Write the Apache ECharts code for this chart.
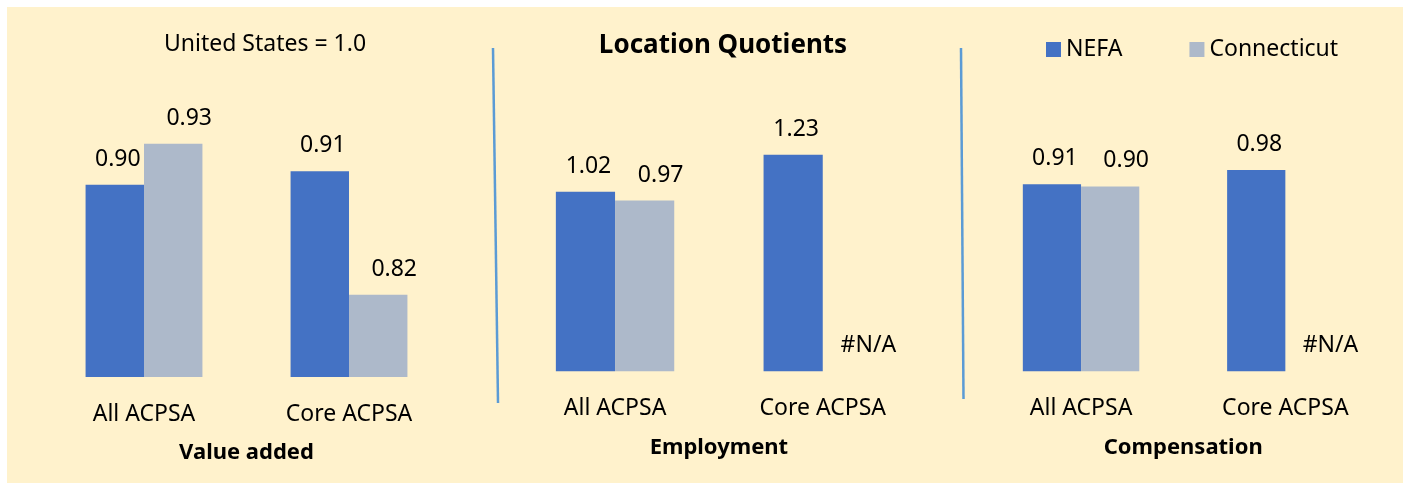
<!DOCTYPE html>
<html>
<head>
<meta charset="utf-8">
<title>Location Quotients</title>
<script src="https://cdn.jsdelivr.net/npm/echarts@6/dist/echarts.min.js"></script>
<style>
  html, body { margin: 0; padding: 0; background: #fff; }
  #chart { width: 1403px; height: 483px; }
</style>
</head>
<body>
<div id="chart"></div>
<script>
// data
const categories = ['All ACPSA', 'Core ACPSA']
const panelNames = ['Value added', 'Employment', 'Compensation']
const seriesNames = ['NEFA', 'Connecticut']
const nefaValueAdded = [0.90, 0.91]
const ctValueAdded = [0.93, 0.82]
const nefaEmployment = [1.02, 1.23]
const ctEmployment = [0.97, null] // #N/A
const nefaCompensation = [0.91, 0.98]
const ctCompensation = [0.90, null] // #N/A

const colors = ['#4472C4', '#ADB9CA']
const font = '"Noto Sans", "Open Sans", sans-serif'

// panel layout (pixels) and value ranges
const panels = [
  { left: 41.5, width: 410, top: 102.5, height: 274.5, min: 0.76, max: 0.96, nefa: nefaValueAdded, ct: ctValueAdded },
  { left: 511.2, width: 415.4, top: 124.8, height: 246.5, min: 0, max: 1.4, nefa: nefaEmployment, ct: ctEmployment },
  { left: 978.9, width: 408.6, top: 124.8, height: 246.5, min: 0, max: 1.2, nefa: nefaCompensation, ct: ctCompensation }
]

function labelFmt(p) {
  if (p.data && p.data.na) return '#N/A'
  return Number(p.value).toFixed(2)
}

const grid = []
const xAxis = []
const yAxis = []
const series = []

panels.forEach((pn, i) => {
  grid.push({ left: pn.left, width: pn.width, top: pn.top, height: pn.height })
  xAxis.push({
    type: 'category',
    gridIndex: i,
    data: categories,
    name: panelNames[i],
    nameLocation: 'middle',
    nameGap: 65,
    nameTextStyle: { fontFamily: font, fontSize: 22, fontWeight: 'bold', color: '#000' },
    axisLine: { show: false },
    axisTick: { show: false },
    axisLabel: { margin: 26, fontFamily: font, fontSize: 23, color: '#000' }
  })
  yAxis.push({
    type: 'value',
    gridIndex: i,
    min: pn.min,
    max: pn.max,
    show: false,
    splitLine: { show: false }
  })
  const sets = [pn.nefa, pn.ct]
  sets.forEach((vals, k) => {
    series.push({
      name: seriesNames[k],
      type: 'bar',
      xAxisIndex: i,
      yAxisIndex: i,
      barGap: '0%',
      barCategoryGap: '43%',
      itemStyle: { color: colors[k] },
      label: {
        show: true,
        position: 'top',
        distance: 14,
        offset: [k === 0 ? 3 : 16, 0],
        fontFamily: font,
        fontSize: 23,
        color: '#000',
        formatter: labelFmt
      },
      // missing values sit at the base as an empty bar with an #N/A label, like the source
      data: vals.map(v => v === null ? { value: 0, na: true } : v)
    })
  })
})

const chart = echarts.init(document.getElementById('chart'))
chart.setOption({
  animation: false,
  backgroundColor: '#fff',
  legend: {
    data: seriesNames,
    left: 1041,
    top: 33,
    icon: 'rect',
    itemWidth: 15,
    itemHeight: 15,
    itemGap: 67,
    selectedMode: false,
    textStyle: { fontFamily: font, fontSize: 23, color: '#000' }
  },
  graphic: [
    { type: 'rect', z: -10, shape: { x: 7, y: 7, width: 1396, height: 476 }, style: { fill: '#FFF2CC' } },
    { type: 'line', shape: { x1: 493, y1: 48, x2: 498, y2: 403 }, style: { stroke: '#5B9BD5', lineWidth: 2.5 } },
    { type: 'line', shape: { x1: 961, y1: 48, x2: 963.5, y2: 399 }, style: { stroke: '#5B9BD5', lineWidth: 2.5 } },
    { type: 'text', x: 265, y: 44, style: { text: 'United States = 1.0', align: 'center', verticalAlign: 'middle', font: '23px ' + font, fill: '#000' } },
    { type: 'text', x: 723, y: 46, style: { text: 'Location Quotients', align: 'center', verticalAlign: 'middle', font: 'bold 26px ' + font, fill: '#000' } }
  ],
  grid: grid,
  xAxis: xAxis,
  yAxis: yAxis,
  series: series
})
</script>
</body>
</html>
